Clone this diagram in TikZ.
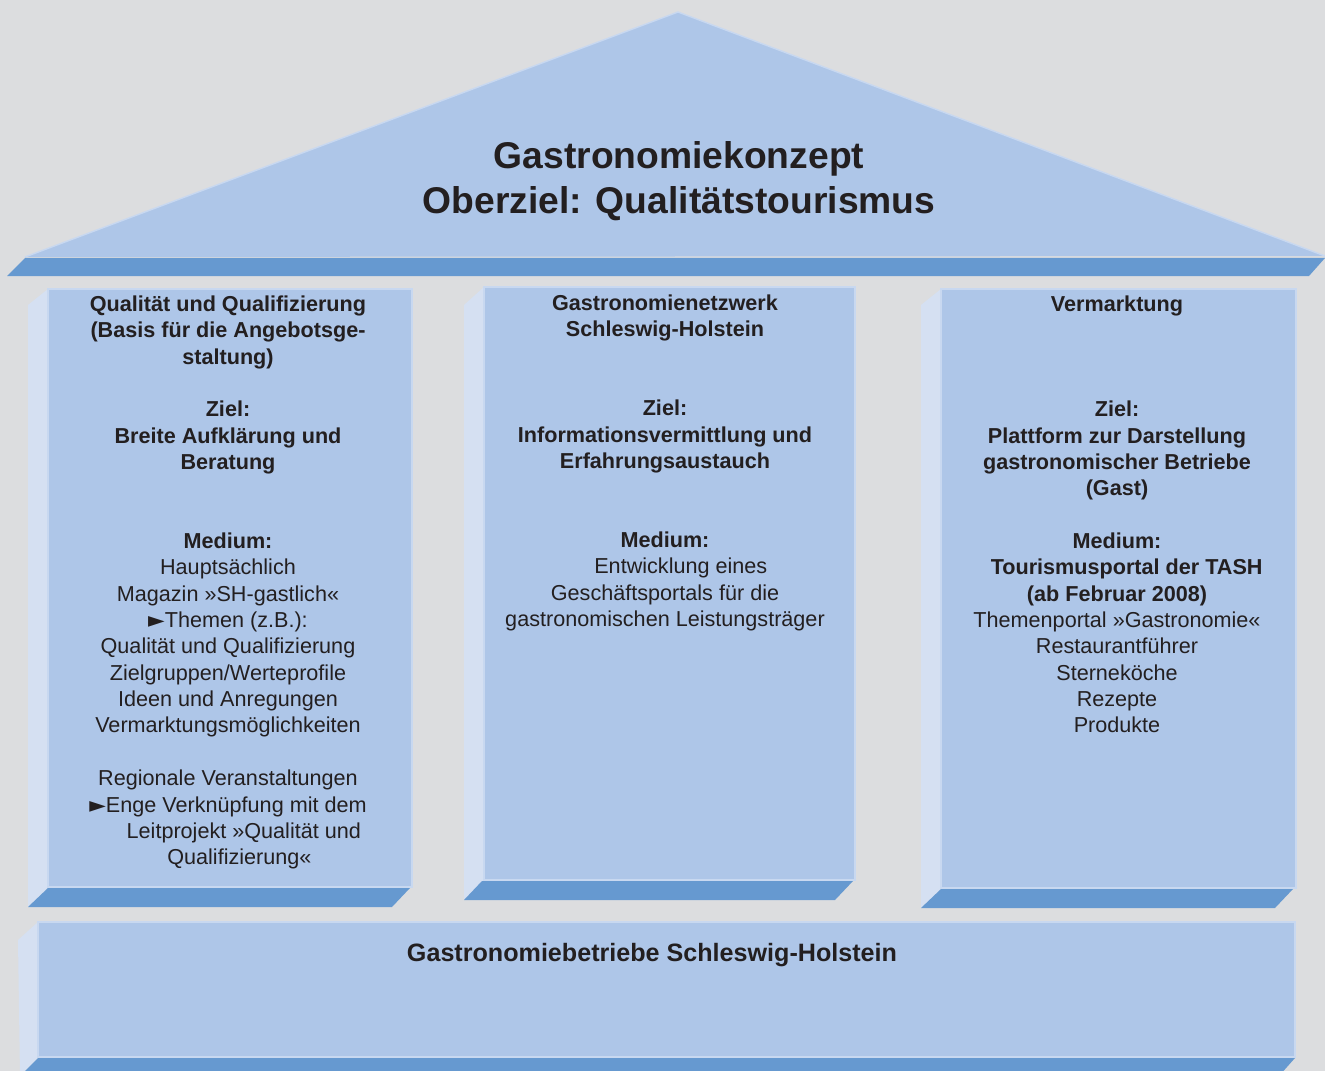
\documentclass[tikz,border=0pt]{standalone}
\usepackage{fontspec}
\setmainfont{Liberation Sans}
\newfontfamily\symfont{DejaVu Sans}
\usepackage{tikz}

\definecolor{bgGray}{HTML}{DCDDDF}
\definecolor{faceBlue}{HTML}{AEC6E8}
\definecolor{sideBlue}{HTML}{D5E0F2}
\definecolor{beamBlue}{HTML}{6699D0}
\definecolor{edgeBlue}{HTML}{C8D8F0}
\definecolor{ink}{HTML}{231F20}

\newcommand{\pointer}{{\symfont ►}}

\tikzset{
  face/.style={fill=faceBlue, draw=edgeBlue, line width=0.8pt},
  side/.style={fill=sideBlue},
  beam/.style={fill=beamBlue},
  title/.style={anchor=north, inner sep=0pt, align=center, text=ink, font=\fontsize{21.2}{25.5}\selectfont\bfseries},
  column/.style={anchor=north, inner sep=0pt, align=center, text=ink, font=\fontsize{12.3}{15}\selectfont}
}

\begin{document}
\begin{tikzpicture}[x=0.02cm, y=-0.02cm]

\useasboundingbox (0,0) rectangle (1325,1071);
\fill[bgGray] (0,0) rectangle (1325,1071);

\fill[faceBlue] (25,257) -- (678,12) -- (1325,256) -- cycle;
\draw[edgeBlue, line width=0.8pt] (25,257) -- (678,12) -- (1325,256);
\fill[beam] (25,258) -- (1325,258) -- (1309,276) -- (7,276) -- cycle;

\fill[side] (28,305) -- (48,289) -- (48,888) -- (28,907) -- cycle;
\draw[face] (48,289) rectangle (412,887);
\fill[beam] (48,888) -- (410,888) -- (392,907) -- (28,907) -- cycle;

\fill[side] (464,305) -- (484,287) -- (484,881) -- (464,900) -- cycle;
\draw[face] (484,287) rectangle (855,880);
\fill[beam] (482,881) -- (853,881) -- (835,900) -- (464,900) -- cycle;

\fill[side] (921,305) -- (941,289) -- (941,889) -- (921,908) -- cycle;
\draw[face] (941,289) rectangle (1296,888);
\fill[beam] (941,889) -- (1293,889) -- (1275,908) -- (921,908) -- cycle;

\fill[side] (18,940) -- (38,922) -- (38,1058) -- (20,1076) -- cycle;
\draw[face] (38,922) rectangle (1295,1057);
\fill[beam] (38,1058) -- (1295,1058) -- (1279,1076) -- (20,1076) -- cycle;

\node[title] (roofText) at (679,136.5) {\strut Gastronomiekonzept\\Oberziel: Qualitätstourismus};

\node[column] (qualiText) at (228,292.5) {\strut\textbf{Qualität und Qualifizierung}\\
\textbf{(Basis für die Angebotsge-}\\
\textbf{staltung)}\\[15pt]
\textbf{Ziel:}\\
\textbf{Breite Aufklärung und}\\
\textbf{Beratung}\\[30pt]
\textbf{Medium:}\\
Hauptsächlich\\
Magazin »SH-gastlich«\\
\pointer Themen (z.B.):\\
Qualität und Qualifizierung\\
Zielgruppen/Werteprofile\\
Ideen und Anregungen\\
Vermarktungsmöglichkeiten\\[15pt]
Regionale Veranstaltungen\\
\pointer Enge Verknüpfung mit dem\\
\hspace*{18pt}Leitprojekt »Qualität und\\
\hspace*{13pt}Qualifizierung«};

\node[column] (netzText) at (665,291.5) {\strut\textbf{Gastronomienetzwerk}\\
\textbf{Schleswig-Holstein}\\[30pt]
\textbf{Ziel:}\\
\textbf{Informationsvermittlung und}\\
\textbf{Erfahrungsaustauch}\\[30pt]
\textbf{Medium:}\\
\hspace*{18pt}Entwicklung eines\\
Geschäftsportals für die\\
gastronomischen Leistungsträger};

\node[column] (marktText) at (1117,292.5) {\strut\textbf{Vermarktung}\\[45pt]
\textbf{Ziel:}\\
\textbf{Plattform zur Darstellung}\\
\textbf{gastronomischer Betriebe}\\
\textbf{(Gast)}\\[15pt]
\textbf{Medium:}\\
\hspace*{11pt}\textbf{Tourismusportal der TASH}\\
\textbf{(ab Februar 2008)}\\
Themenportal »Gastronomie«\\
Restaurantführer\\
Sterneköche\\
Rezepte\\
Produkte};

\node[column, font=\fontsize{14.3}{17}\selectfont\bfseries] (baseText) at (652,940) {\strut Gastronomiebetriebe Schleswig-Holstein};

\end{tikzpicture}
\end{document}
